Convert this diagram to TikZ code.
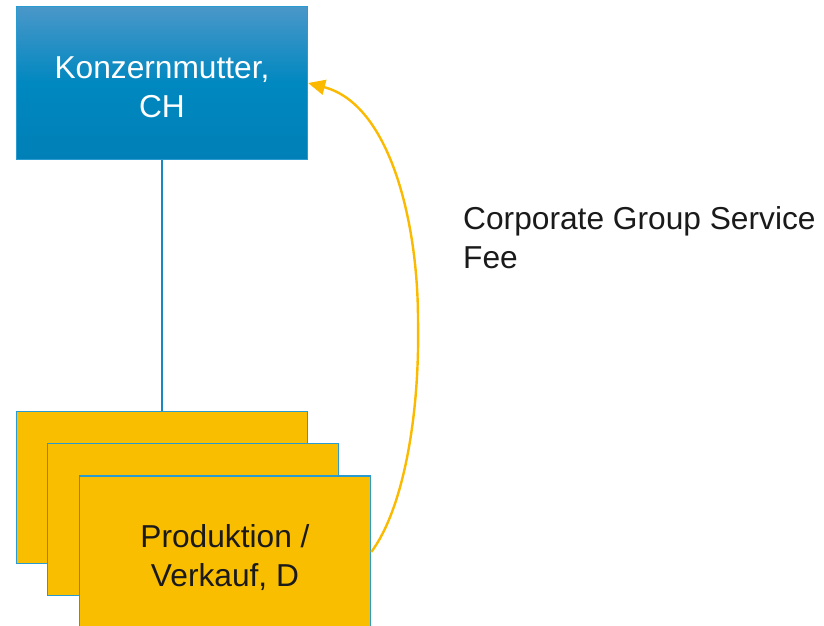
\documentclass[tikz,border=0pt]{standalone}
\usepackage{fontspec}
\setmainfont{Liberation Sans}
\usetikzlibrary{arrows.meta}
\definecolor{boxyellow}{HTML}{FABE00}
\definecolor{boxedge}{HTML}{2A9BD0}
\definecolor{linkblue}{HTML}{1A88BF}
\definecolor{topblue}{HTML}{4A97C9}
\definecolor{midblue}{HTML}{0088C0}
\definecolor{botblue}{HTML}{0080B6}
\definecolor{arrowyellow}{HTML}{FBBA00}
\definecolor{textdark}{HTML}{1A1A1A}
\newcommand{\lowered}[1]{\raisebox{0pt}[\dimexpr\height+14pt\relax]{\begin{tabular}{@{}c@{}}#1\end{tabular}}}
\begin{document}
\begin{tikzpicture}[x=1pt,y=-1pt,
  bigfont/.style={font=\fontsize{31.7}{39.5}\selectfont},
  entity/.style={draw=boxedge, line width=1.5pt, fill=boxyellow, minimum width=291pt, minimum height=152pt, inner sep=0pt},
  parent/.style={draw=boxedge, line width=1.2pt, minimum width=291pt, minimum height=153pt, inner sep=0pt, top color=topblue, bottom color=botblue, middle color=midblue, text=white, bigfont},
  link/.style={draw=linkblue, line width=1.8pt},
  fee/.style={draw=arrowyellow, line width=2.4pt, -{Triangle[length=17pt,width=15pt]}}
]
\useasboundingbox (0,0) rectangle (824,626);
\node[parent] (top) at (162,83) {\lowered{Konzernmutter,\\CH}};
\node[entity] (b1) at (162,487.5) {};
\node[entity] (b2) at (193,519.5) {};
\node[entity, text=textdark, bigfont] (b3) at (225,552) {\lowered{Produktion /\\Verkauf, D}};
\draw[link] (top.south) -- (b1.north);
\coordinate (m) at (418,320);
\draw[fee] (b3.east) .. controls (402,511) and (420,420) .. (m) .. controls (418,220) and (389,104) .. (top.east);
\node[anchor=north west, align=left, text=textdark, bigfont, inner sep=0pt] (label) at (463,206) {Corporate Group Service\\Fee};
\end{tikzpicture}
\end{document}
